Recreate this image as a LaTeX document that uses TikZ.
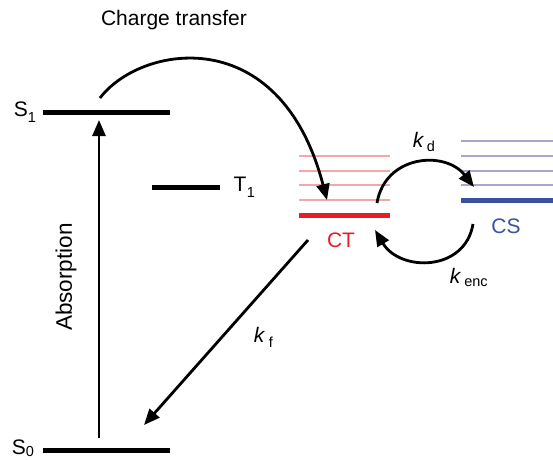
\documentclass[tikz,border=0pt]{standalone}
\usepackage{fontspec}
\setmainfont{Liberation Sans}
\usetikzlibrary{arrows.meta}
\definecolor{ctred}{HTML}{E61E28}
\definecolor{ctpink}{HTML}{F4A7AB}
\definecolor{csblue}{HTML}{3A50A2}
\definecolor{cslight}{HTML}{A9A6CF}
\begin{document}
\begin{tikzpicture}[x=1pt,y=-1pt,
  level/.style={line width=5pt},
  thin level/.style={line width=2.6pt},
  arr/.style={line width=2.8pt,-{Triangle[length=16pt,width=13pt]}},
  lbl/.style={font=\fontsize{21}{23}\selectfont, inner sep=0pt},
  sub/.style={font=\fontsize{14.5}{15}\selectfont, inner sep=0pt}]
\useasboundingbox (0,0) rectangle (553,459);
% levels
\draw[level] (43,112) coordinate (s1a) -- (170,112) coordinate (s1b);
\draw[level] (152,187) coordinate (t1a) -- (220,187) coordinate (t1b);
\draw[level] (43,450) coordinate (s0a) -- (170,450) coordinate (s0b);
\foreach \y in {156,171,185,200} \draw[thin level,ctpink] (299,\y) -- (390,\y);
\draw[level,ctred] (299,215) coordinate (cta) -- (390,215) coordinate (ctb);
\foreach \y in {141,156,171,185} \draw[thin level,cslight] (461,\y) -- (553,\y);
\draw[level,csblue] (461,200) coordinate (csa) -- (553,200) coordinate (csb);
% labels
\node[lbl] (lS1) at (21,109) {S};
\node[sub] (lS1s) at (32,118) {1};
\node[lbl] (lT1) at (240,184) {T};
\node[sub] (lT1s) at (251,193) {1};
\node[lbl] (lS0) at (19,447) {S};
\node[sub] (lS0s) at (30,451) {0};
\node[lbl] (lct) at (174,20) {Charge transfer};
\node[lbl,font=\fontsize{22.5}{24}\selectfont,rotate=90] (labs) at (66,277) {Absorption};
\node[lbl,text=ctred] (lCT) at (341,240) {CT};
\node[lbl,text=csblue] (lCS) at (506,226) {CS};
\node[lbl] (lkd) at (418,140) {\itshape k};
\node[sub] (lkds) at (431,146) {d};
\node[lbl] (lke) at (455,276) {\itshape k};
\node[sub] (lkes) at (476,283) {enc};
\node[lbl] (lkf) at (259,335) {\itshape k};
\node[sub] (lkfs) at (271,342) {f};
% arrows
\coordinate (absS) at (99,438);
\coordinate (absE) at (99,120);
\draw[arr] (absS) -- (absE);
\coordinate (ctS) at (100,98);
\coordinate (ctE) at (327,200);
\draw[arr] (ctS) .. controls (140,45) and (280,20) .. (ctE);
\coordinate (kdS) at (377,203);
\coordinate (kdE) at (474,187);
\draw[arr] (kdS) .. controls (385,155) and (445,150) .. (kdE);
\coordinate (keS) at (473,224);
\coordinate (keE) at (375,230);
\draw[arr] (keS) .. controls (465,272) and (400,272) .. (keE);
\coordinate (kfS) at (308,240);
\coordinate (kfE) at (144,425);
\draw[arr] (kfS) -- (kfE);
\end{tikzpicture}
\end{document}
